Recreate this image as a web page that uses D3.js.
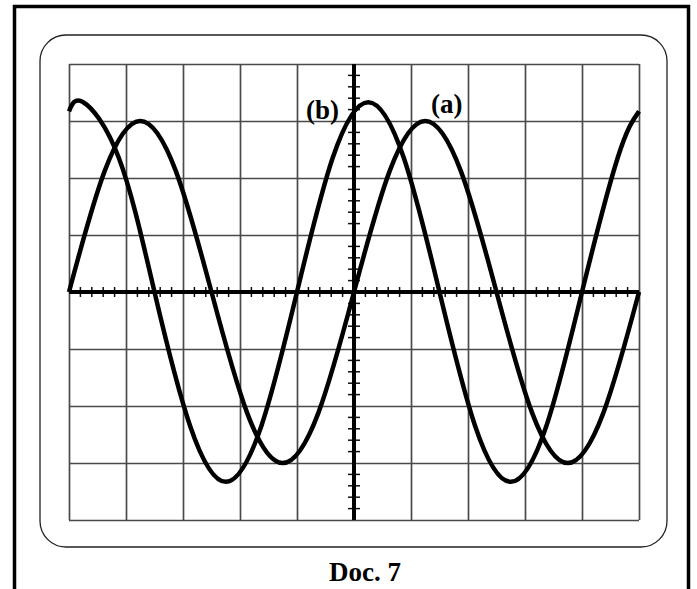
<html lang="en">
<head>
	<meta charset="utf-8">
	<title>Doc. 7</title>
	<script src="https://d3js.org/d3.v7.min.js"></script>
	<style>
		body { margin: 0; background: #fff; }
		svg { display: block; }
		.grid line { stroke: #4a4a4a; stroke-width: 1.7px; }
		.grid path { display: none; }
		.trace { fill: none; stroke: #000; stroke-width: 4.5px; stroke-linejoin: round; }
		.label { font-family: "Liberation Serif", "Times New Roman", serif; font-weight: bold; fill: #000; }
	</style>
</head>
<body>
<svg id="chart" width="697" height="589"></svg>
<script>
	// screen divisions
	var xDivs = [0, 1, 2, 3, 4, 5, 6, 7, 8, 9, 10];
	var yDivs = [-4, -3, -2, -1, 0, 1, 2, 3, 4];
	// minor graduations on the centre axes (every 0.2 div)
	var xMinor = [0.2, 0.4, 0.6, 0.8, 1.2, 1.4, 1.6, 1.8, 2.2, 2.4, 2.6, 2.8, 3.2, 3.4, 3.6, 3.8, 4.2, 4.4, 4.6, 4.8,
		5.2, 5.4, 5.6, 5.8, 6.2, 6.4, 6.6, 6.8, 7.2, 7.4, 7.6, 7.8, 8.2, 8.4, 8.6, 8.8, 9.2, 9.4, 9.6, 9.8];
	var yMinor = [-3.8, -3.6, -3.4, -3.2, -2.8, -2.6, -2.4, -2.2, -1.8, -1.6, -1.4, -1.2, -0.8, -0.6, -0.4, -0.2,
		0.2, 0.4, 0.6, 0.8, 1.2, 1.4, 1.6, 1.8, 2.2, 2.4, 2.6, 2.8, 3.2, 3.4, 3.6, 3.8];

	// trace (a): points (divisions)
	var traceAx = [0, 0.625, 1.25, 1.875, 2.5, 3.125, 3.75, 4.375, 5, 5.625, 6.25, 6.875, 7.5, 8.125, 8.75, 9.375, 10];
	var traceAy = [0, 2.12, 3, 2.12, 0, -2.12, -3, -2.12, 0, 2.12, 3, 2.12, 0, -2.12, -3, -2.12, 0];

	// trace (b)
	var traceBx = [0, 0.25, 0.875, 1.5, 2.125, 2.75, 3.375, 4, 4.625, 5.25, 5.875, 6.5, 7.125, 7.75, 8.375, 9, 9.625, 10];
	var traceBy = [3.17, 3.33, 2.35, 0, -2.35, -3.33, -2.35, 0, 2.35, 3.33, 2.35, 0, -2.35, -3.33, -2.35, 0, 2.35, 3.17];

	var traceLabels = ["(a)", "(b)"];
	var caption = "Doc. 7";

	var svg = d3.select("#chart");

	var x = d3.scaleLinear().domain([0, 10]).range([69, 639]),
		y = d3.scaleLinear().domain([-4, 4]).range([520, 64]);

	//outer frame (open at the bottom)
	svg.append("path")
		.attr("d", "M14.5,592V6.5H688.5V592")
		.attr("fill", "none")
		.attr("stroke", "#000")
		.attr("stroke-width", 3.5);

	//rounded screen bezel
	svg.append("rect")
		.attr("x", 40).attr("y", 35)
		.attr("width", 627).attr("height", 512)
		.attr("rx", 26).attr("ry", 26)
		.attr("fill", "none")
		.attr("stroke", "#222")
		.attr("stroke-width", 1.3);

	//grid
	svg.append("g")
		.attr("class", "grid")
		.attr("transform", "translate(0," + y(4) + ")")
		.call(d3.axisBottom(x).tickValues(xDivs).tickSize(y(-4) - y(4)).tickSizeOuter(0).tickFormat(""));

	svg.append("g")
		.attr("class", "grid")
		.attr("transform", "translate(" + x(0) + ",0)")
		.call(d3.axisRight(y).tickValues(yDivs).tickSize(x(10) - x(0)).tickSizeOuter(0).tickFormat(""));

	//minor graduations
	svg.append("g").selectAll("line")
		.data(xMinor)
		.enter().append("line")
		.attr("x1", function (d) { return x(d); })
		.attr("x2", function (d) { return x(d); })
		.attr("y1", y(0) - 5)
		.attr("y2", y(0) + 5)
		.attr("stroke", "#111")
		.attr("stroke-width", 1.5);

	svg.append("g").selectAll("line")
		.data(yMinor)
		.enter().append("line")
		.attr("y1", function (d) { return y(d); })
		.attr("y2", function (d) { return y(d); })
		.attr("x1", x(5) - 6)
		.attr("x2", x(5) + 6)
		.attr("stroke", "#111")
		.attr("stroke-width", 1.5);

	//centre axes
	svg.append("line")
		.attr("x1", x(0)).attr("x2", x(10))
		.attr("y1", y(0)).attr("y2", y(0))
		.attr("stroke", "#000").attr("stroke-width", 4);
	svg.append("line")
		.attr("x1", x(5)).attr("x2", x(5))
		.attr("y1", y(4)).attr("y2", y(-4))
		.attr("stroke", "#000").attr("stroke-width", 4);

	//traces
	var line = d3.line().curve(d3.curveNatural)
		.x(function (d) { return x(d[0]); })
		.y(function (d) { return y(d[1]); });

	svg.append("path")
		.attr("class", "trace")
		.attr("d", line(d3.zip(traceAx, traceAy)));
	svg.append("path")
		.attr("class", "trace")
		.attr("d", line(d3.zip(traceBx, traceBy)));

	//labels
	svg.append("text")
		.attr("class", "label")
		.attr("x", 431).attr("y", 113)
		.style("font-size", "27px")
		.text(traceLabels[0]);
	svg.append("text")
		.attr("class", "label")
		.attr("x", 306).attr("y", 119)
		.style("font-size", "27px")
		.text(traceLabels[1]);

	svg.append("text")
		.attr("class", "label")
		.attr("x", 365).attr("y", 581)
		.attr("text-anchor", "middle")
		.style("font-size", "27px")
		.text(caption);
</script>
</body>
</html>
